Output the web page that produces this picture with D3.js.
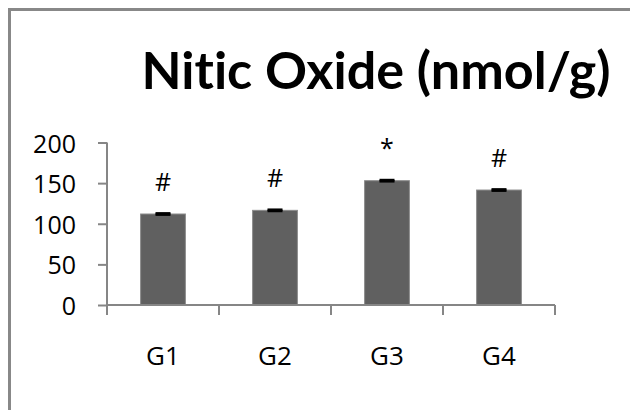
<!DOCTYPE html>
<html>
<head>
<meta charset="utf-8">
<script src="https://cdn.jsdelivr.net/npm/d3@7"></script>
<style>
  body { margin: 0; background: #fff; }
  svg { display: block; font-family: "Open Sans", sans-serif; font-variant-ligatures: none; }
</style>
</head>
<body>
<div id="chart"></div>
<script>
var groups = ["G1", "G2", "G3", "G4"];
var values = [112, 116.5, 153, 141.5];
var errors = [0.8, 0.8, 0.8, 0.8];
var marks = ["#", "#", "*", "#"];
var yTicks = [0, 50, 100, 150, 200];

var w = 630, h = 410;

var svg = d3.select("#chart").append("svg")
    .attr("width", w)
    .attr("height", h);

/* chart area border, runs off the right and bottom edge */
svg.append("rect")
    .attr("x", 9.5).attr("y", 9.5)
    .attr("width", 700).attr("height", 500)
    .attr("fill", "none")
    .attr("stroke", "#888")
    .attr("stroke-width", 3);

svg.append("text")
    .attr("x", 376).attr("y", 89)
    .attr("text-anchor", "middle")
    .attr("font-family", "Lato, sans-serif")
    .attr("font-size", 51)
    .attr("font-weight", 700)
    .attr("textLength", 469)
    .attr("lengthAdjust", "spacingAndGlyphs")
    .text("Nitic Oxide (nmol/g)");

var x = d3.scaleBand(groups, [107, 555]).paddingInner(0.6).paddingOuter(0.3);
var y = d3.scaleLinear([0, 200], [305, 142.5]);

/* y axis */
var gy = svg.append("g")
    .attr("transform", "translate(107,0)")
    .call(d3.axisLeft(y).tickValues(yTicks).tickSize(9).tickPadding(22).tickFormat(d3.format("d")));
gy.select(".domain").attr("stroke", "#868686").attr("stroke-width", 2)
    .attr("d", "M0," + y(200) + "V" + y(0));
gy.selectAll(".tick line").attr("stroke", "#868686").attr("stroke-width", 2);
gy.selectAll(".tick text")
    .attr("font-family", "'Open Sans', sans-serif")
    .attr("font-size", 25)
    .attr("fill", "#000")
    .attr("dy", "0.38em");

/* bars */
svg.selectAll("rect.bar")
    .data(values)
    .enter().append("rect")
    .attr("class", "bar")
    .attr("x", (d, i) => x(groups[i]))
    .attr("width", x.bandwidth())
    .attr("y", d => y(d))
    .attr("height", d => y(0) - y(d))
    .attr("fill", "#606060")
    .attr("stroke", "#8c8c8c")
    .attr("stroke-width", 1);

/* x axis */
var gx = svg.append("g")
    .attr("transform", "translate(0," + y(0) + ")")
    .call(d3.axisBottom(x).tickSize(0).tickPadding(42));
gx.select(".domain").attr("stroke", "#868686").attr("stroke-width", 2)
    .attr("d", "M" + x.range()[0] + ",0H" + x.range()[1]);
gx.selectAll(".tick text")
    .attr("font-family", "'Open Sans', sans-serif")
    .attr("font-size", 26)
    .attr("fill", "#000");

var edges = groups.map(g => x(g) - x.step() * x.paddingOuter()).concat([x.range()[1]]);
gx.selectAll("line.cat")
    .data(edges)
    .enter().append("line")
    .attr("class", "cat")
    .attr("x1", d => d).attr("x2", d => d)
    .attr("y1", 0).attr("y2", 10)
    .attr("stroke", "#868686")
    .attr("stroke-width", 2);

/* error bars */
var eb = svg.selectAll("g.err")
    .data(values)
    .enter().append("g")
    .attr("class", "err")
    .attr("transform", (d, i) => "translate(" + (x(groups[i]) + x.bandwidth() / 2) + ",0)");
eb.append("line")
    .attr("y1", (d, i) => y(d - errors[i])).attr("y2", (d, i) => y(d + errors[i]))
    .attr("stroke", "#000").attr("stroke-width", 2);
eb.append("line")
    .attr("x1", -7.5).attr("x2", 7.5)
    .attr("y1", (d, i) => y(d + errors[i])).attr("y2", (d, i) => y(d + errors[i]))
    .attr("stroke", "#000").attr("stroke-width", 2.5);
eb.append("line")
    .attr("x1", -7.5).attr("x2", 7.5)
    .attr("y1", (d, i) => y(d - errors[i])).attr("y2", (d, i) => y(d - errors[i]))
    .attr("stroke", "#000").attr("stroke-width", 2.5);

/* significance marks */
svg.selectAll("text.mark")
    .data(values)
    .enter().append("text")
    .attr("class", "mark")
    .attr("x", (d, i) => x(groups[i]) + x.bandwidth() / 2)
    .attr("y", d => y(d) - 23.5)
    .attr("text-anchor", "middle")
    .attr("font-family", "'Open Sans', sans-serif")
    .attr("font-size", 25)
    .text((d, i) => marks[i]);
</script>
</body>
</html>
